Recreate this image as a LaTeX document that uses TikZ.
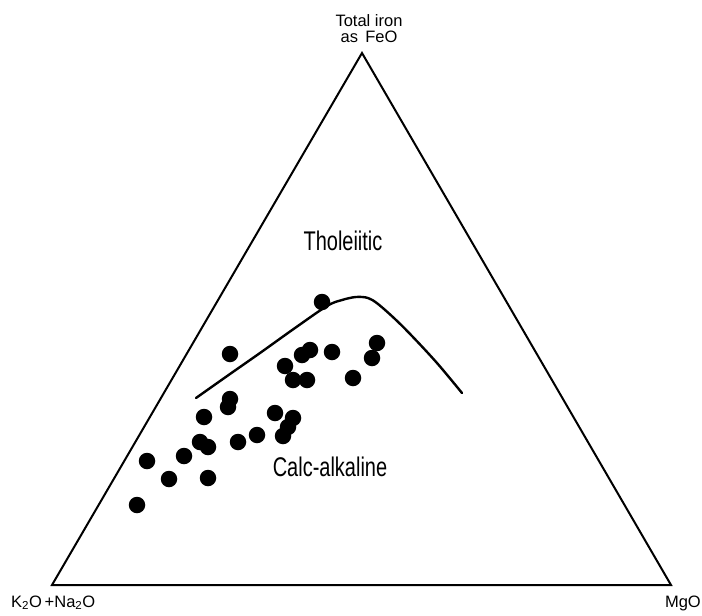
\documentclass[tikz,border=0pt]{standalone}
\usepackage{fontspec}
\setmainfont{Liberation Sans}
\newfontfamily\condfont[FakeStretch=0.74]{Liberation Sans}
\begin{document}
\begin{tikzpicture}[x=1pt,y=-1pt,
  edge/.style={line width=2pt,line join=miter},
  trend/.style={line width=2.4pt,line cap=round,line join=round},
  dot/.style={circle,fill=black,inner sep=0pt,minimum size=16.5pt},
  region/.style={font=\condfont\fontsize{27}{30}\selectfont},
  corner/.style={font=\fontsize{16.5}{16.5}\selectfont}]
\useasboundingbox (0,0) rectangle (702,616);
% triangle
\coordinate (A) at (362,53);
\coordinate (L) at (52,585);
\coordinate (R) at (671,585);
\draw[edge] (A) -- (L) -- (R) -- cycle;
% labels
\node[corner,inner sep=0pt,anchor=base] (top1) at (369,26) {Total iron};
\node[corner,inner sep=0pt,anchor=base] (top2) at (369,42) {as\, FeO};
\node[corner,anchor=base west,inner sep=0pt] (kna) at (11,607) {K\textsubscript{2}O\,+Na\textsubscript{2}O};
\node[corner,anchor=base east,inner sep=0pt] (mgo) at (701,607) {MgO};
\node[region] (thol) at (343,241) {Tholeiitic};
\node[region] (calc) at (330,467) {Calc-alkaline};
% dividing curve
\coordinate (c0) at (196,398);
\coordinate (c1) at (462,393);
\draw[trend] plot[smooth,tension=0.55] coordinates {
  (c0) (230,374) (260,353) (295,328) (327,306) (342,300) (356,297)
  (368,298) (378,304) (395,319) (412,336) (437,363) (c1)};
% data points
\foreach \px/\py [count=\i] in {
  230/354, 322/302,
  310/350, 302/355, 285/366, 293/380, 307/380, 332/352,
  377/343, 372/358, 353/378,
  230/399, 228/407, 204/417, 275/413,
  293/418, 288/427, 283/436,
  200/442, 208/447, 257/435, 238/442,
  184/456, 147/461, 169/479, 208/478, 137/505}
  \node[dot] (p\i) at (\px,\py) {};
\end{tikzpicture}
\end{document}
